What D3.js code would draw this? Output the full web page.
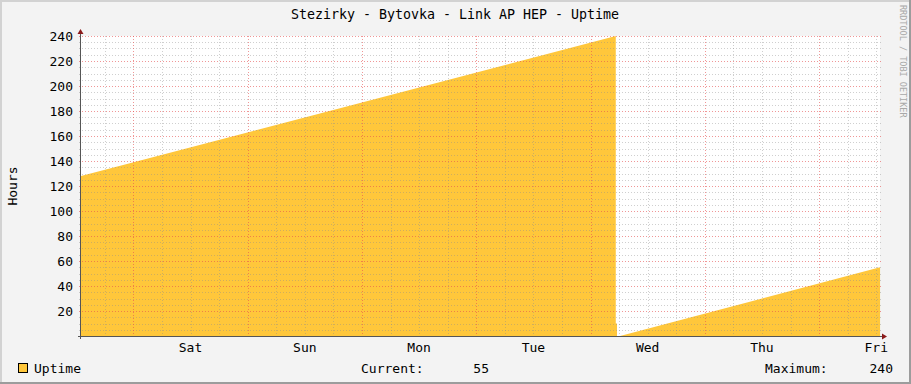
<!DOCTYPE html>
<html lang="en">
<head>
    <meta charset="UTF-8">
    <title>Stezirky - Bytovka - Link AP HEP - Uptime</title>
    <script src="https://d3js.org/d3.v7.min.js"></script>
    <style>
        body { margin: 0; background: #f3f3f3; }
        svg text { font-family: "DejaVu Sans Mono", monospace; fill: #000; }
    </style>
</head>
<body>
<svg width="911" height="384"></svg>
<script>
    // time in hours from the left edge of the week graph, uptime in hours
    const hours  = [0, 112.3, 112.3, 112.56, 112.56, 113.2, 167.8];
    const uptime = [128, 240, 10, 10, 0, 0, 55];

    const dayLabels = ["Sat", "Sun", "Mon", "Tue", "Wed", "Thu", "Fri"];
    const labelHours = [23, 47, 71, 95, 119, 143, 167];
    const yTickValues = [20, 40, 60, 80, 100, 120, 140, 160, 180, 200, 220, 240];

    const W = 911, H = 384;
    const x0 = 81, x1 = 881, yTop = 36, yBot = 336;

    const x = d3.scaleLinear().domain([0, 168]).range([x0, x1]);
    const y = d3.scaleLinear().domain([0, 240]).range([yBot, yTop]);

    const svg = d3.select("svg");

    // background + frame
    svg.append("rect").attr("width", W).attr("height", H).attr("fill", "#f3f3f3");
    svg.append("path").attr("d", `M1,${H} V1 H${W}`).attr("stroke", "#d2d2d2").attr("stroke-width", 2).attr("fill", "none");
    svg.append("path").attr("d", `M0,${H - 1} H${W - 1} V0`).attr("stroke", "#9c9c9c").attr("stroke-width", 2).attr("fill", "none");

    // plot area
    svg.append("rect").attr("x", x0).attr("y", yTop).attr("width", x1 - x0 - 1).attr("height", yBot - yTop)
        .attr("fill", "#fff");

    // data area
    const data = hours.map((h, i) => ({ h: h, v: uptime[i] }));
    svg.append("path").datum(data)
        .attr("fill", "#ffc73b")
        .attr("d", d3.area().x(d => x(d.h)).y0(y(0)).y1(d => y(d.v)));

    // grid
    const grid = svg.append("g").attr("shape-rendering", "crispEdges");
    const minorY = d3.range(5, 241, 5).filter(v => v % 20 !== 0);
    const majorY = d3.range(20, 241, 20);
    const minorX = d3.range(5, 168, 6).filter(h => (h - 11) % 24 !== 0);
    const majorX = d3.range(11, 168, 24);

    grid.selectAll(".my").data(minorY).enter().append("line")
        .attr("x1", x0 - 2).attr("x2", x1).attr("y1", d => Math.round(y(d)) + 0.5).attr("y2", d => Math.round(y(d)) + 0.5)
        .attr("stroke", "#8c8c8c").attr("stroke-opacity", 0.42).attr("stroke-dasharray", "1,2");
    grid.selectAll(".mx").data(minorX).enter().append("line")
        .attr("y1", yTop).attr("y2", yBot + 2).attr("x1", d => Math.round(x(d)) + 0.5).attr("x2", d => Math.round(x(d)) + 0.5)
        .attr("stroke", "#8c8c8c").attr("stroke-opacity", 0.42).attr("stroke-dasharray", "1,2");
    grid.selectAll(".My").data(majorY).enter().append("line")
        .attr("x1", x0 - 2).attr("x2", x1).attr("y1", d => Math.round(y(d)) + 0.5).attr("y2", d => Math.round(y(d)) + 0.5)
        .attr("stroke", "#e65050").attr("stroke-opacity", 0.6).attr("stroke-dasharray", "1,2");
    grid.selectAll(".Mx").data(majorX).enter().append("line")
        .attr("y1", yTop).attr("y2", yBot + 3).attr("x1", d => Math.round(x(d)) + 0.5).attr("x2", d => Math.round(x(d)) + 0.5)
        .attr("stroke", "#e65050").attr("stroke-opacity", 0.6).attr("stroke-dasharray", "1,2");

    // axes
    const axisCol = "#555";
    svg.append("line").attr("x1", x0 - 0.5).attr("x2", x0 - 0.5).attr("y1", yTop - 4).attr("y2", yBot + 3)
        .attr("stroke", axisCol);
    svg.append("line").attr("x1", x0 - 3).attr("x2", x1 + 2).attr("y1", yBot + 0.5).attr("y2", yBot + 0.5)
        .attr("stroke", axisCol);
    svg.append("path").attr("d", `M${x0 - 3.5},${yTop - 2} L${x0 - 0.5},${yTop - 7} L${x0 + 2.5},${yTop - 2} Z`).attr("fill", "#8b1a1a");
    svg.append("path").attr("d", `M${x1 + 1},${yBot - 2.5} L${x1 + 6},${yBot + 0.5} L${x1 + 1},${yBot + 3.5} Z`).attr("fill", "#8b1a1a");

    // y tick labels
    svg.selectAll(".yl").data(yTickValues).enter().append("text")
        .attr("x", 73).attr("y", d => y(d)).attr("dy", "0.36em")
        .attr("text-anchor", "end").attr("font-size", 13).text(d => d);

    // x labels
    svg.selectAll(".xl").data(dayLabels).enter().append("text")
        .attr("x", (d, i) => x(labelHours[i])).attr("y", 352)
        .attr("text-anchor", "middle").attr("font-size", 13).text(d => d);

    // title
    svg.append("text").attr("x", 455).attr("y", 19).attr("text-anchor", "middle")
        .attr("font-size", 13.3).text("Stezirky - Bytovka - Link AP HEP - Uptime");

    // y-axis title
    svg.append("text").attr("transform", "translate(17,186) rotate(-90)").attr("text-anchor", "middle")
        .attr("font-size", 13).text("Hours");

    // watermark
    svg.append("text").attr("transform", "translate(900,5) rotate(90)").attr("font-size", 8.5)
        .style("fill", "#a8a8a8").text("RRDTOOL / TOBI OETIKER");

    // legend
    svg.append("rect").attr("x", 18.5).attr("y", 363.5).attr("width", 9).attr("height", 9)
        .attr("fill", "#ffc73b").attr("stroke", "#000");
    svg.append("text").attr("x", 34).attr("y", 373).attr("font-size", 13).text("Uptime");
    svg.append("text").attr("x", 361).attr("y", 373).attr("font-size", 13).text("Current:");
    svg.append("text").attr("x", 489).attr("y", 373).attr("text-anchor", "end").attr("font-size", 13)
        .text(uptime[uptime.length - 1]);
    svg.append("text").attr("x", 765).attr("y", 373).attr("font-size", 13).text("Maximum:");
    svg.append("text").attr("x", 893).attr("y", 373).attr("text-anchor", "end").attr("font-size", 13)
        .text(d3.max(uptime));
</script>
</body>
</html>
